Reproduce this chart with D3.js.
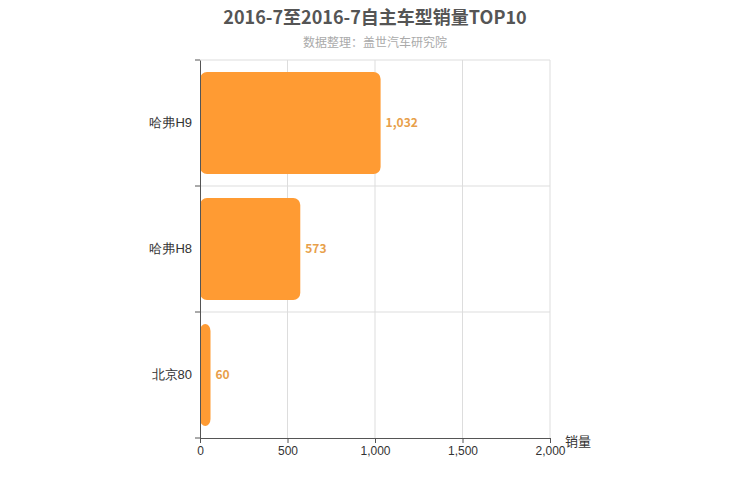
<!DOCTYPE html>
<html><head><meta charset="utf-8">
<script src="https://cdn.jsdelivr.net/npm/d3@7"></script>
<style>body{margin:0;background:#fff;font-family:"Microsoft YaHei","Noto Sans CJK SC",sans-serif}</style>
</head><body><svg id="c" width="750" height="500"></svg>
<script>
const categories = ["哈弗H9","哈弗H8","北京80"];
const values = [1032, 573, 60];
const xTicks = [0,500,1000,1500,2000];
const title = "2016-7至2016-7自主车型销量TOP10";
const subtitle = "数据整理：盖世汽车研究院";

const svg = d3.select("#c");
const L=200,R=550,T=60,B=438;
const x = d3.scaleLinear().domain([0,2000]).range([L,R]);
const y = d3.scaleBand().domain(categories).range([T,B]).paddingInner(0.19).paddingOuter(0.095);
const yb = d3.scaleBand().domain(categories).range([T,B]);

svg.append("text").attr("x",375).attr("y",24).attr("text-anchor","middle")
  .attr("font-size",18).attr("font-weight","bold").attr("fill","#555").text(title);
svg.append("text").attr("x",375).attr("y",47).attr("text-anchor","middle")
  .attr("font-size",12).attr("fill","#aaa").text(subtitle);

// grid
svg.selectAll(".vg").data(xTicks.slice(1)).join("line")
  .attr("x1",d=>x(d)).attr("x2",d=>x(d)).attr("y1",T).attr("y2",B).attr("stroke","#ddd");
const bounds=[T,...categories.slice(1).map(c=>yb(c))];
svg.selectAll(".hg").data(bounds).join("line")
  .attr("x1",L).attr("x2",R).attr("y1",d=>d).attr("y2",d=>d).attr("stroke","#ddd");

// bars
svg.selectAll(".bar").data(values).join("rect")
  .attr("x",x(0)).attr("y",(d,i)=>y(categories[i]))
  .attr("width",d=>x(d)-x(0)).attr("height",y.bandwidth())
  .attr("rx",7).attr("fill","#ff9b33");
svg.selectAll(".lbl").data(values).join("text")
  .attr("x",d=>x(d)+5).attr("y",(d,i)=>y(categories[i])+y.bandwidth()/2+4)
  .attr("font-size",12).attr("font-weight","bold").attr("fill","#e8a04a")
  .text(d=>d3.format(",")(d));

// axes
const ya = svg.append("g").attr("transform",`translate(${L},0)`)
  .call(d3.axisLeft(yb).tickSize(0).tickPadding(8));
ya.select(".domain").attr("stroke","#555");
ya.selectAll("text").attr("font-size",13).attr("fill","#333");
ya.selectAll(".bt").data([...bounds,B]).join("line").attr("class","bt")
  .attr("x1",-5).attr("x2",0).attr("y1",d=>d).attr("y2",d=>d).attr("stroke","#555");
const xa = svg.append("g").attr("transform",`translate(0,${B})`)
  .call(d3.axisBottom(x).tickValues(xTicks).tickFormat(d3.format(",")).tickSize(5));
xa.select(".domain").attr("stroke","#555");
xa.selectAll("line").attr("stroke","#555");
xa.selectAll("text").attr("font-size",12).attr("fill","#333");
svg.append("text").attr("x",565).attr("y",446).attr("font-size",13).attr("fill","#333").text("销量");
</script></body></html>
